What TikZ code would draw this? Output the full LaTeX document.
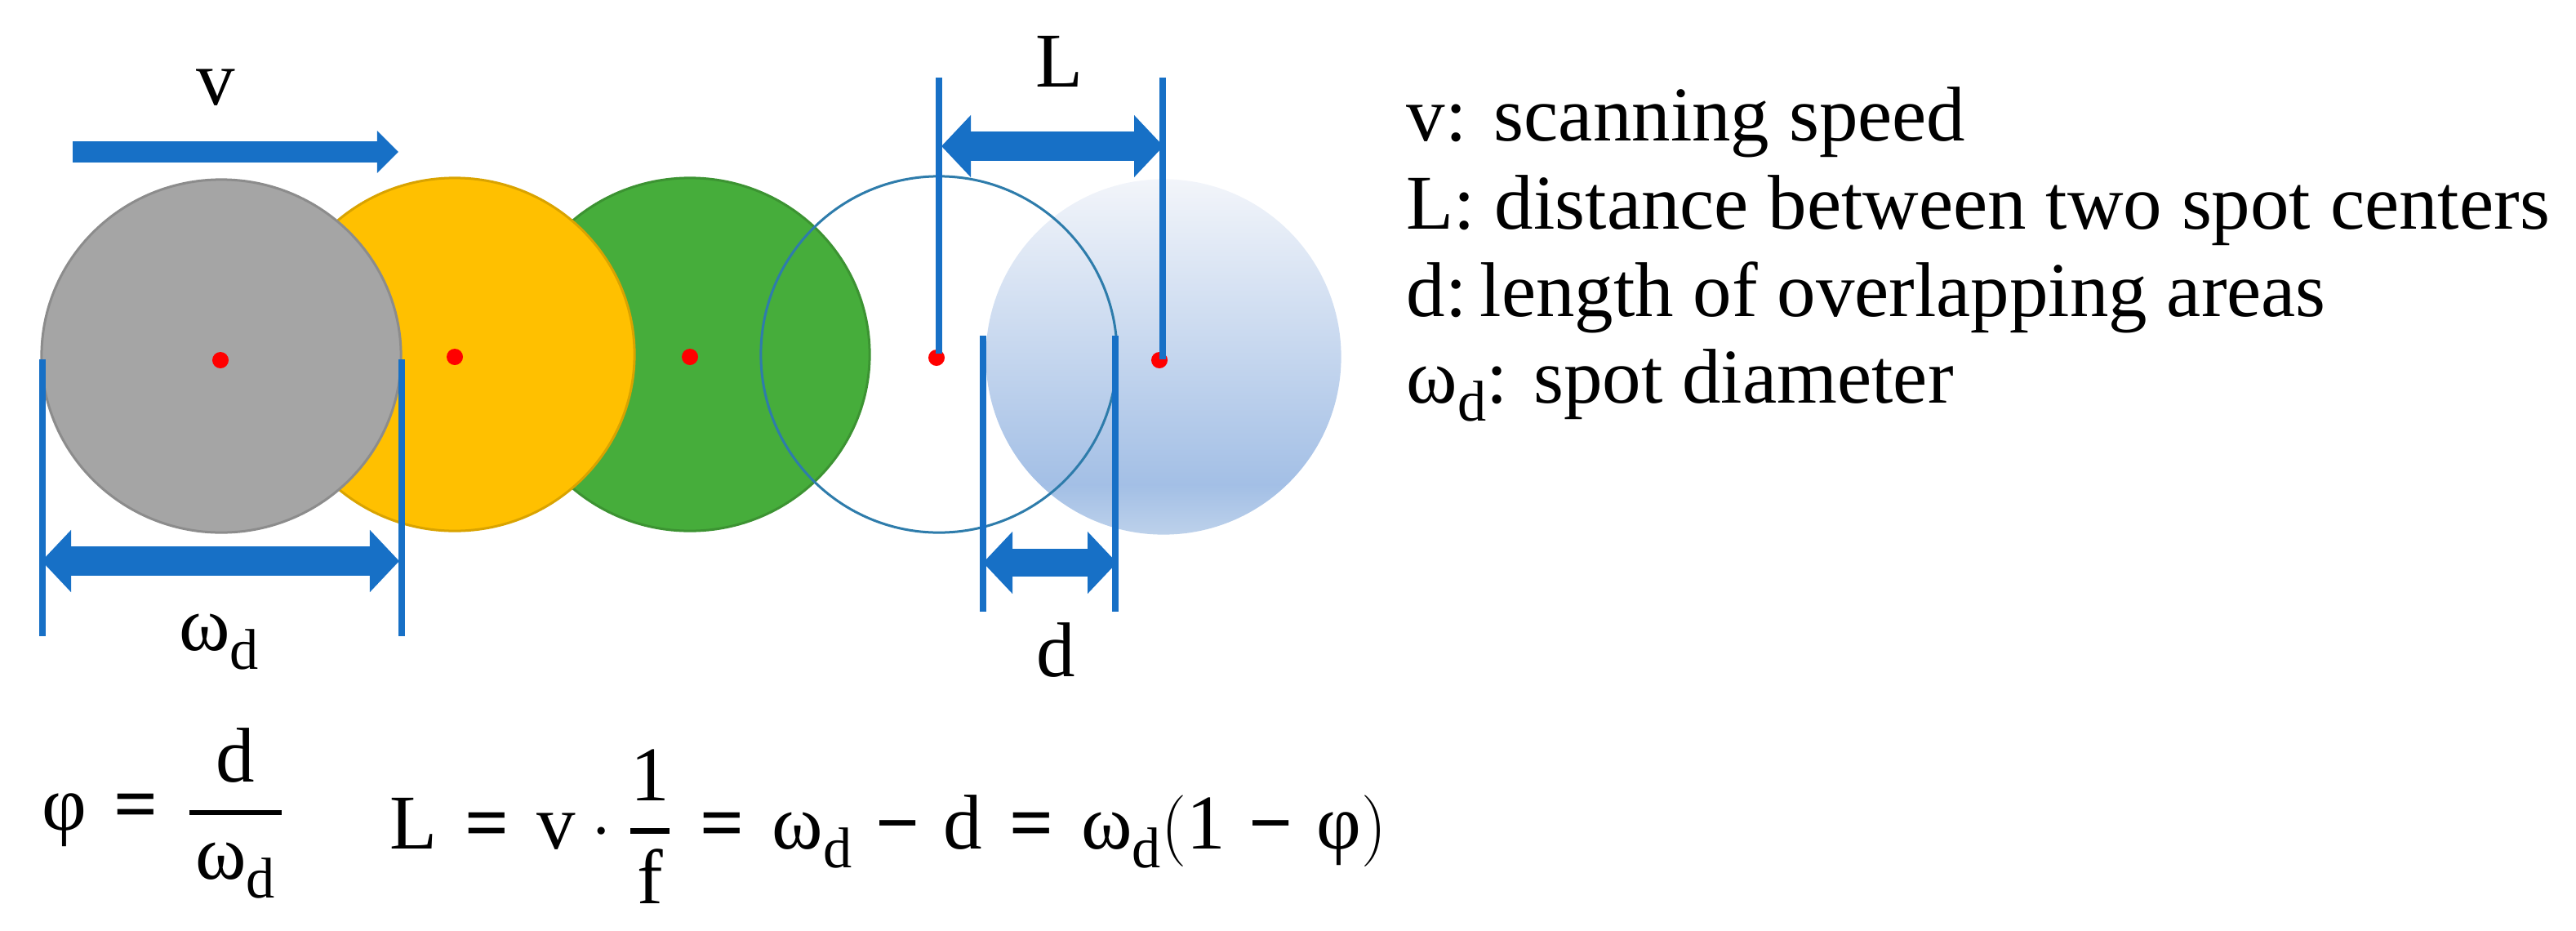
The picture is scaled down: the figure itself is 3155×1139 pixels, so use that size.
\documentclass[tikz,border=0pt]{standalone}
\usepackage{amsmath}
\usepackage{fontspec}
\setmainfont{Liberation Serif}
\usepackage{tikz}
\usetikzlibrary{arrows.meta, positioning, shapes.geometric}
\definecolor{dimblue}{HTML}{1770C6}
\definecolor{spotgray}{HTML}{A5A5A5}
\definecolor{spotyellow}{HTML}{FFC000}
\definecolor{spotgreen}{HTML}{46AD3B}
\definecolor{ringblue}{HTML}{2E7CAB}
\pgfdeclareverticalshading{spotfade}{100bp}{
  rgb(0bp)=(0.74,0.82,0.92); rgb(25bp)=(0.74,0.82,0.92); rgb(32bp)=(0.64,0.75,0.90);
  rgb(75bp)=(0.95,0.96,0.98); rgb(100bp)=(0.95,0.96,0.98)}
\tikzset{
  every node/.style={font=\fontsize{27}{30}\selectfont, inner sep=0pt},
  spot/.style={ellipse, minimum width=4.40cm, minimum height=4.32cm, draw=#1!85!black, fill=#1, line width=0.03cm},
  fadespot/.style={circle, minimum size=4.35cm, shading=spotfade},
  ring/.style={circle, minimum size=4.36cm, draw=ringblue, line width=0.03cm},
  center dot/.style={circle, minimum size=0.2cm, fill=red},
  dimline/.style={draw=dimblue, line width=0.08cm},
  bigarrow/.style={draw=dimblue, line width=0.36cm, {Triangle[length=0.36cm,width=0.74cm]}-{Triangle[length=0.36cm,width=0.74cm]}},
  speedarrow/.style={draw=dimblue, line width=0.25cm, -{Triangle[length=0.26cm,width=0.5cm]}},
  legend/.style={anchor=base west}
}
\newcommand{\omd}{ω\raisebox{-0.24em}{\fontsize{20}{22}\selectfont d}}
\newcommand{\thickfrac}[2]{\genfrac{}{}{1.8pt}{0}{#1}{#2}}
\newcommand{\eqsym}{\mathrel{\text{\hspace{0.1em}\bfseries =\hspace{0.1em}}}}
\newcommand{\minsym}{\mathbin{\text{\hspace{0.1em}\bfseries −\hspace{0.1em}}}}

\begin{document}
\begin{tikzpicture}[x=0.01cm, y=-0.01cm]
\useasboundingbox (0,0) rectangle (3155,1139);
% spots
\node[spot=spotgreen] (s3) at (845,434) {};
\node[spot=spotyellow] (s2) at (557,434) {};
\node[spot=spotgray] (s1) at (271,436) {};
\node[fadespot] (s5) at (1425,437) {};
\node[ring] (s4) at (1150,434) {};
\node[center dot] (p1) at (270,441) {};
\node[center dot] (p2) at (557,437) {};
\node[center dot] (p3) at (845,437) {};
\node[center dot] (p4) at (1147,438) {};
\node[center dot] (p5) at (1420,441) {};
% dimension lines
\coordinate (wa) at (52,440);  \coordinate (wb) at (52,779);
\coordinate (wc) at (492,440); \coordinate (wd) at (492,779);
\coordinate (la) at (1150,95); \coordinate (lb) at (1150,433);
\coordinate (lc) at (1424,95); \coordinate (ld) at (1424,440);
\coordinate (da) at (1204,411); \coordinate (db) at (1204,749);
\coordinate (dc) at (1366,411); \coordinate (dd) at (1366,749);
\draw[dimline] (wa) -- (wb);
\draw[dimline] (wc) -- (wd);
\draw[dimline] (la) -- (lb);
\draw[dimline] (lc) -- (ld);
\draw[dimline] (da) -- (db);
\draw[dimline] (dc) -- (dd);
% arrows
\coordinate (va) at (89,186);   \coordinate (vb) at (488,186);
\coordinate (wl) at (51,687);   \coordinate (wr) at (489,687);
\coordinate (ll) at (1153,179); \coordinate (lr) at (1425,179);
\coordinate (dl) at (1204,689); \coordinate (dr) at (1368,689);
\draw[speedarrow] (va) -- (vb);
\draw[bigarrow] (wl) -- (wr);
\draw[bigarrow] (ll) -- (lr);
\draw[bigarrow, line width=0.34cm] (dl) -- (dr);
% labels
\node (vlab) at (264,107) {v};
\node (llab) at (1297,75) {L};
\node (dlab) at (1293,796) {d};
\node (wlab) at (268,786) {\omd};
% legend
\node[legend] (leg1) at (1722,172) {v:\hspace{0.35em}scanning speed};
\node[legend] (leg2) at (1722,280) {L:\hspace{0.25em}distance between two spot centers};
\node[legend] (leg3) at (1722,387) {d:\hspace{0.17em}length of overlapping areas};
\node[legend] (leg4) at (1722,493) {\omd: spot diameter};
% formulas
\node (eqa) at (200,996) {$\text{φ}\eqsym\thickfrac{\text{d}}{\text{\hspace{0.08em}\omd\hspace{0.08em}}}$};
\node (eqb) at (1088,1012) {$\text{L}\eqsym\text{v}\cdot\thickfrac{\text{1}}{\text{f}}\eqsym\text{\omd}\minsym\text{d}\eqsym\text{\omd}(\text{1}\minsym\text{φ})$};
\end{tikzpicture}
\end{document}
